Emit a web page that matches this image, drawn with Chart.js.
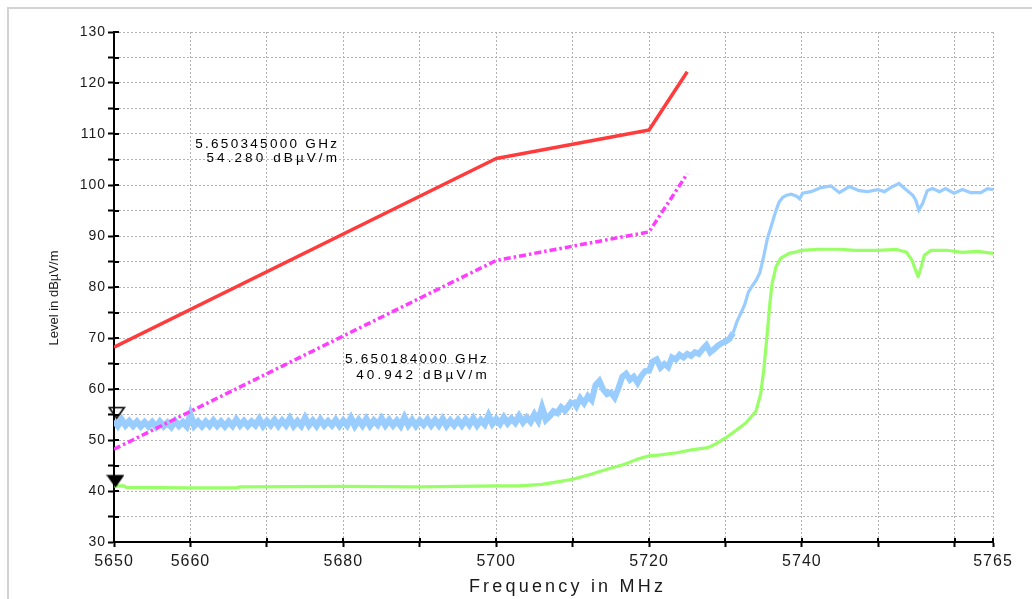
<!DOCTYPE html>
<html><head><meta charset="utf-8">
<script src="https://cdn.jsdelivr.net/npm/chart.js@4.4.1/dist/chart.umd.min.js"></script>
<style>
html,body{margin:0;padding:0;background:#fff;}
#wrap{position:relative;width:1032px;height:599px;overflow:hidden;}
#frame{position:absolute;left:7px;top:7px;width:1100px;height:700px;border-left:2px solid #d2d2d2;border-top:2px solid #d2d2d2;}
canvas{position:absolute;left:0;top:0;}
</style></head><body>
<div id="wrap"><div id="frame"></div><canvas id="c" width="1032" height="599"></canvas></div>
<script>
// ---- data ----
const xTickValues = [5650,5660,5670,5680,5690,5700,5710,5720,5730,5740,5750,5760,5765];
const xTickLabels = [5650,5660,5680,5700,5720,5740,5765];
const yTickLabels = [30,40,50,60,70,80,90,100,110,120,130];

const limitFreq = [5650,5700,5720,5725];
const peakLimit = [68.2,105.2,110.8,122.2];
const avgLimit  = [48.2,85.2,90.8,102.2];

const blueFreq = [
5650,5650.5,5651,5651.5,5652,5652.5,5653,5653.5,5654,5654.5,
5655,5655.5,5656,5656.5,5657,5657.5,5658,5658.5,5659,5659.5,
5660,5660.5,5661,5661.5,5662,5662.5,5663,5663.5,5664,5664.5,
5665,5665.5,5666,5666.5,5667,5667.5,5668,5668.5,5669,5669.5,
5670,5670.5,5671,5671.5,5672,5672.5,5673,5673.5,5674,5674.5,
5675,5675.5,5676,5676.5,5677,5677.5,5678,5678.5,5679,5679.5,
5680,5680.5,5681,5681.5,5682,5682.5,5683,5683.5,5684,5684.5,
5685,5685.5,5686,5686.5,5687,5687.5,5688,5688.5,5689,5689.5,
5690,5690.5,5691,5691.5,5692,5692.5,5693,5693.5,5694,5694.5,
5695,5695.5,5696,5696.5,5697,5697.5,5698,5698.5,5699,5699.5,
5700,5700.5,5701,5701.5,5702,5702.5,5703,5703.5,5704,5704.5,
5705,5705.5,5706,5706.5,5707,5707.5,5708,5708.5,5709,5709.5,
5710,5710.5,5711,5711.5,5712,5712.5,5713,5713.5,5714,5714.5,
5715,5715.5,5716,5716.5,5717,5717.5,5718,5718.5,5719,5719.5,
5720,5720.5,5721,5721.5,5722,5722.5,5723,5723.5,5724,5724.5,
5725,5725.5,5726,5726.5,5727,5727.5,5728,5728.5,5729,5729.5,
5730,5730.5,5731,5731.5,5732,5732.5,5733,5733.5,5734,5734.5,
5735,5735.5,5736,5736.5,5737,5737.5,5738,
5738.6,5739.3,5739.7,5740.1,5741.2,5742.5,5743.8,5744.9,5746.2,5747.5,
5748.6,5749.9,5750.8,5751.6,5752.7,5753.6,5754.5,5754.9,5755.3,5755.8,
5756.4,5757.1,5758.0,5758.8,5759.9,5761.0,5762.1,5763.4,5764.3,5765.0];
const blueLevel = [
53.8,52.8,54.0,52.9,53.7,52.8,53.6,52.7,53.5,52.7,
53.5,52.6,53.6,52.7,53.4,52.6,53.7,52.8,53.5,52.7,
55.0,52.8,53.6,52.7,53.6,52.8,53.8,52.8,53.6,52.7,
53.6,52.8,54.0,52.9,53.7,52.8,53.6,52.9,54.1,52.8,
53.7,52.9,53.9,52.8,53.8,52.9,54.2,52.8,53.7,52.8,
54.3,52.9,53.8,52.8,54.0,52.9,53.7,52.9,53.9,52.8,
53.8,52.9,54.3,52.8,53.9,52.9,54.1,52.8,53.8,53.0,
54.2,52.9,53.9,52.9,53.8,52.8,54.4,52.9,53.9,52.8,
53.8,53.0,54.0,52.9,53.9,52.9,54.1,52.8,53.8,52.9,
53.9,52.9,54.0,53.0,54.2,52.9,53.9,53.1,54.8,53.2,
54.1,53.2,54.4,53.3,54.2,53.4,54.7,53.5,54.4,53.6,
55.0,53.8,56.3,54.0,54.7,55.6,55.3,56.4,55.8,56.7,
57.8,56.6,58.2,57.2,58.6,57.8,60.8,61.6,59.9,59.0,
59.3,58.3,60.2,62.4,63.0,61.8,62.4,61.2,62.6,63.5,
63.6,65.4,65.8,64.2,64.9,64.3,66.2,65.8,66.7,66.2,
66.9,66.5,67.2,66.9,67.8,68.6,67.2,67.8,68.5,69.0,
69.3,69.8,71.0,73.2,74.8,76.5,79.0,80.2,81.3,82.8,
86.0,89.6,92.0,94.5,96.6,97.6,98.0,
98.2,97.8,97.3,98.4,98.7,99.5,99.8,98.5,99.7,98.9,
98.7,99.1,98.7,99.5,100.3,99.1,98.0,97.0,95.1,96.4,
98.9,99.3,98.7,99.3,98.4,99.1,98.5,98.5,99.3,99.1];

const greenFreq = [5650,5651.3,5651.6,5660,5666,5666.5,5680,5690,5695,5700,5703,5706,5708,5710,5712.4,5714.6,5716.7,5718.4,5720,5721.5,5723.6,5725.3,5727.7,5728.8,5730.1,5731.4,5732.7,5734,5734.6,5735,5735.5,5735.8,5736.1,5736.6,5737.2,5738.3,5739.3,5740,5742,5745,5747,5750,5752.3,5753.7,5754.4,5754.9,5755.2,5755.6,5756,5756.9,5759,5761,5763,5765];
const greenLevel = [41.0,41.0,40.7,40.6,40.6,40.8,40.9,40.8,40.9,41.0,41.0,41.3,41.8,42.3,43.3,44.3,45.2,46.2,46.9,47.1,47.5,48.0,48.5,49.3,50.5,51.9,53.4,55.7,59.0,63.6,71.5,76.7,80.7,83.9,85.6,86.6,86.9,87.2,87.4,87.4,87.2,87.2,87.4,86.8,85.2,83.2,82.0,83.9,86.2,87.2,87.2,86.8,87.0,86.6];

const markerFreq  = [5650.345, 5650.184];
const markerLevel = [54.280, 40.942];

// ---- helpers ----
const toXY = (xs, ys) => xs.map((x, i) => ({x: x, y: ys[i]}));
const FONT = '"Liberation Sans", Arial, Helvetica, sans-serif';
Chart.defaults.font.family = FONT;

function triangle(filled) {
  const c = document.createElement('canvas');
  c.width = 18; c.height = 24;
  const g = c.getContext('2d');
  g.beginPath(); g.moveTo(1.5, 1.5); g.lineTo(16.5, 1.5); g.lineTo(9, 12); g.closePath();
  g.lineWidth = 1.6; g.strokeStyle = '#000';
  if (filled) { g.fillStyle = '#000'; g.fill(); }
  g.stroke();
  return c;
}

const spacingPlugin = {
  id: 'spacing',
  beforeDraw(chart) { chart.ctx.letterSpacing = '1px'; }
};

const innerTicks = {
  id: 'innerTicks',
  beforeDatasetsDraw(chart) {
    const {ctx, chartArea: a, scales: {x, y}} = chart;
    ctx.save();
    ctx.strokeStyle = '#000'; ctx.lineWidth = 2; ctx.setLineDash([]);
    ctx.beginPath();
    x.ticks.forEach(t => { const px = Math.round(x.getPixelForValue(t.value)); ctx.moveTo(px, a.bottom); ctx.lineTo(px, a.bottom - 4); });
    y.ticks.forEach(t => { const py = Math.round(y.getPixelForValue(t.value)); ctx.moveTo(a.left, py); ctx.lineTo(a.left + 5, py); });
    ctx.stroke();
    ctx.restore();
  }
};

const axisTitles = {
  id: 'axisTitles',
  afterDraw(chart, args, opts) {
    const {ctx, chartArea: a} = chart;
    ctx.save();
    ctx.fillStyle = '#1a1a1a';
    ctx.letterSpacing = '3.2px';
    ctx.font = '18px ' + FONT;
    ctx.textAlign = 'center'; ctx.textBaseline = 'alphabetic';
    ctx.fillText(opts.xText, (a.left + a.right) / 2 + opts.xShift, a.bottom + opts.xDrop);
    ctx.letterSpacing = '0px';
    ctx.font = '13px ' + FONT;
    ctx.translate(a.left - opts.yGap, (a.top + a.bottom) / 2 + opts.yShift);
    ctx.rotate(-Math.PI / 2);
    ctx.textBaseline = 'middle';
    ctx.fillText(opts.yText, 0, 0);
    ctx.restore();
  }
};

const markerText = {
  id: 'markerText',
  afterDraw(chart, args, opts) {
    const {ctx, scales: {x, y}} = chart;
    ctx.save();
    ctx.fillStyle = '#000';
    ctx.font = '13.5px ' + FONT;
    ctx.textAlign = 'right'; ctx.textBaseline = 'alphabetic';
    opts.anchors.forEach((an, i) => {
      const px = x.getPixelForValue(an.x);
      const py = y.getPixelForValue(an.y);
      const l1 = (markerFreq[i] / 1000).toFixed(9) + ' GHz';
      const l2 = markerLevel[i].toFixed(3) + ' dB\u00B5V/m';
      ctx.letterSpacing = '2.3px';
      ctx.fillText(l1, px + 2.3, py);
      ctx.letterSpacing = '3.1px';
      ctx.fillText(l2, px + 3.1, py + an.gap);
    });
    ctx.restore();
  }
};

const gridCommon = {color: '#b2b2b2', lineWidth: 1, tickColor: '#000', tickWidth: 2, tickBorderDash: []};
const borderCommon = {display: true, color: '#000', width: 2, dash: [2, 2]};

const blueWidth = c => {
  const f = c.p0.parsed.x;
  if (f < 5710) return 6.5;
  if (f < 5731) return 6;
  return 3.2;
};

new Chart(document.getElementById('c'), {
  type: 'line',
  data: {
    datasets: [
      {label: 'markers', data: toXY(markerFreq, markerLevel), showLine: false,
       pointStyle: [triangle(false), triangle(true)], pointRadius: 9, clip: false, order: 0},
      {label: 'peak limit', data: toXY(limitFreq, peakLimit), borderColor: '#ff3b3b', borderWidth: 3.5,
       pointRadius: 0, order: 1},
      {label: 'average limit', data: toXY(limitFreq, avgLimit), borderColor: '#ff3cff', borderWidth: 3.5,
       borderDash: [7, 3, 2.5, 3], pointRadius: 0, order: 2},
      {label: 'average', data: toXY(greenFreq, greenLevel), borderColor: '#99ff66', borderWidth: 3.2,
       pointRadius: 0, order: 3},
      {label: 'peak', data: toXY(blueFreq, blueLevel), borderColor: '#99ccff', borderWidth: 6.5,
       segment: {borderWidth: blueWidth}, borderJoinStyle: 'miter', borderCapStyle: 'butt',
       pointRadius: 0, order: 4}
    ]
  },
  options: {
    responsive: false, animation: false, devicePixelRatio: 1,
    layout: {padding: {left: 0, top: 32, right: 39, bottom: 0}},
    elements: {line: {tension: 0, borderJoinStyle: 'round'}},
    plugins: {
      legend: {display: false}, tooltip: {enabled: false},
      axisTitles: {xText: 'Frequency in MHz', xShift: 14, xDrop: 50, yText: 'Level in dB\u00B5V/m', yGap: 59.5, yShift: 11},
      markerText: {anchors: [{x: 5679.17, y: 107.2, gap: 14}, {x: 5698.76, y: 65.16, gap: 16.5}]}
    },
    scales: {
      x: {
        type: 'linear', min: 5650, max: 5765,
        afterBuildTicks: s => { s.ticks = xTickValues.map(v => ({value: v})); },
        afterFit: s => { s.height = 57; },
        ticks: {autoSkip: false, maxRotation: 0, minRotation: 0, padding: 5, color: '#1a1a1a',
                font: {size: 16}, callback: v => xTickLabels.includes(v) ? String(v) : ''},
        grid: Object.assign({tickLength: 5}, gridCommon),
        border: borderCommon
      },
      y: {
        type: 'linear', min: 30, max: 130,
        afterFit: s => { s.width = 114; },
        ticks: {stepSize: 5, autoSkip: false, padding: 2, color: '#1a1a1a', font: {size: 14},
                callback: v => yTickLabels.includes(v) ? String(v) : ''},
        grid: Object.assign({tickLength: 6}, gridCommon),
        border: borderCommon
      }
    }
  },
  plugins: [spacingPlugin, innerTicks, axisTitles, markerText]
});
</script></body></html>
